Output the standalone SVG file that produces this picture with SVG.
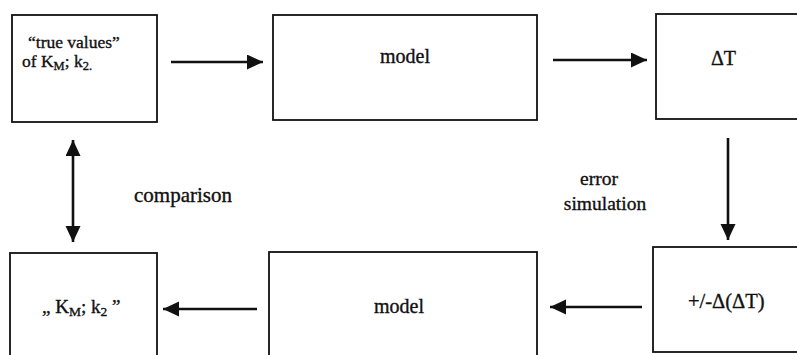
<svg xmlns="http://www.w3.org/2000/svg" width="797" height="355" viewBox="0 0 797 355">
<style>
.box{fill:#fff;stroke:#111;stroke-width:1.8}
.t{font-family:"Liberation Serif","Times New Roman",serif;fill:#111;stroke:#111;stroke-width:0.35;font-size:20px}
.c{stroke:#111;stroke-width:2.6;fill:none}
</style>
<defs>
<marker id="ah" markerUnits="userSpaceOnUse" markerWidth="18" markerHeight="16" refX="16" refY="7.5" orient="auto-start-reverse">
<path d="M0,0 L16,7.5 L0,15 Z" fill="#111"/>
</marker>
</defs>
<rect width="797" height="355" fill="#fff"/>
<g id="n1"><rect class="box" x="12" y="15" width="145" height="107"/>
<text class="t" x="28" y="48" style="font-size:17.5px">“true values”</text>
<text class="t" x="22" y="67" style="font-size:17.5px">of K<tspan dy="3" style="font-size:12.5px">M</tspan><tspan dy="-3">; k</tspan><tspan dy="3" style="font-size:12.5px">2.</tspan></text></g>
<g id="n2"><rect class="box" x="273" y="15" width="264" height="105"/>
<text class="t" x="405" y="63" text-anchor="middle">model</text></g>
<g id="n3"><rect class="box" x="656" y="14" width="150" height="105"/>
<text class="t" x="711" y="65">ΔT</text></g>
<g id="n4"><rect class="box" x="653" y="247" width="150" height="105"/>
<text class="t" x="688" y="308" style="font-size:20.5px">+/-Δ(ΔT)</text></g>
<g id="n5"><rect class="box" x="269" y="252" width="268" height="110"/>
<text class="t" x="399" y="313" text-anchor="middle">model</text></g>
<g id="n6"><rect class="box" x="10" y="253" width="147" height="110"/>
<text class="t" x="42" y="313" style="font-size:19px">„ K<tspan dy="3" style="font-size:13.5px">M</tspan><tspan dy="-3">; k</tspan><tspan dy="3" style="font-size:13.5px">2</tspan><tspan dy="-3"> ”</tspan></text></g>
<g id="labels">
<text class="t" x="134" y="202" style="font-size:21px">comparison</text>
<text class="t" x="599" y="185" text-anchor="middle" style="font-size:19.5px">error</text>
<text class="t" x="605" y="210" text-anchor="middle" style="font-size:19.5px">simulation</text>
</g>
<g id="connectors">
<line class="c" x1="171" y1="62" x2="263" y2="62" marker-end="url(#ah)"/>
<line class="c" x1="553" y1="60" x2="647" y2="60" marker-end="url(#ah)"/>
<line class="c" x1="728" y1="138" x2="728" y2="240" marker-end="url(#ah)"/>
<line class="c" x1="642" y1="307" x2="550" y2="307" marker-end="url(#ah)"/>
<line class="c" x1="257" y1="309" x2="163" y2="309" marker-end="url(#ah)"/>
<line class="c" x1="73" y1="140" x2="73" y2="242" marker-start="url(#ah)" marker-end="url(#ah)"/>
</g>
</svg>
